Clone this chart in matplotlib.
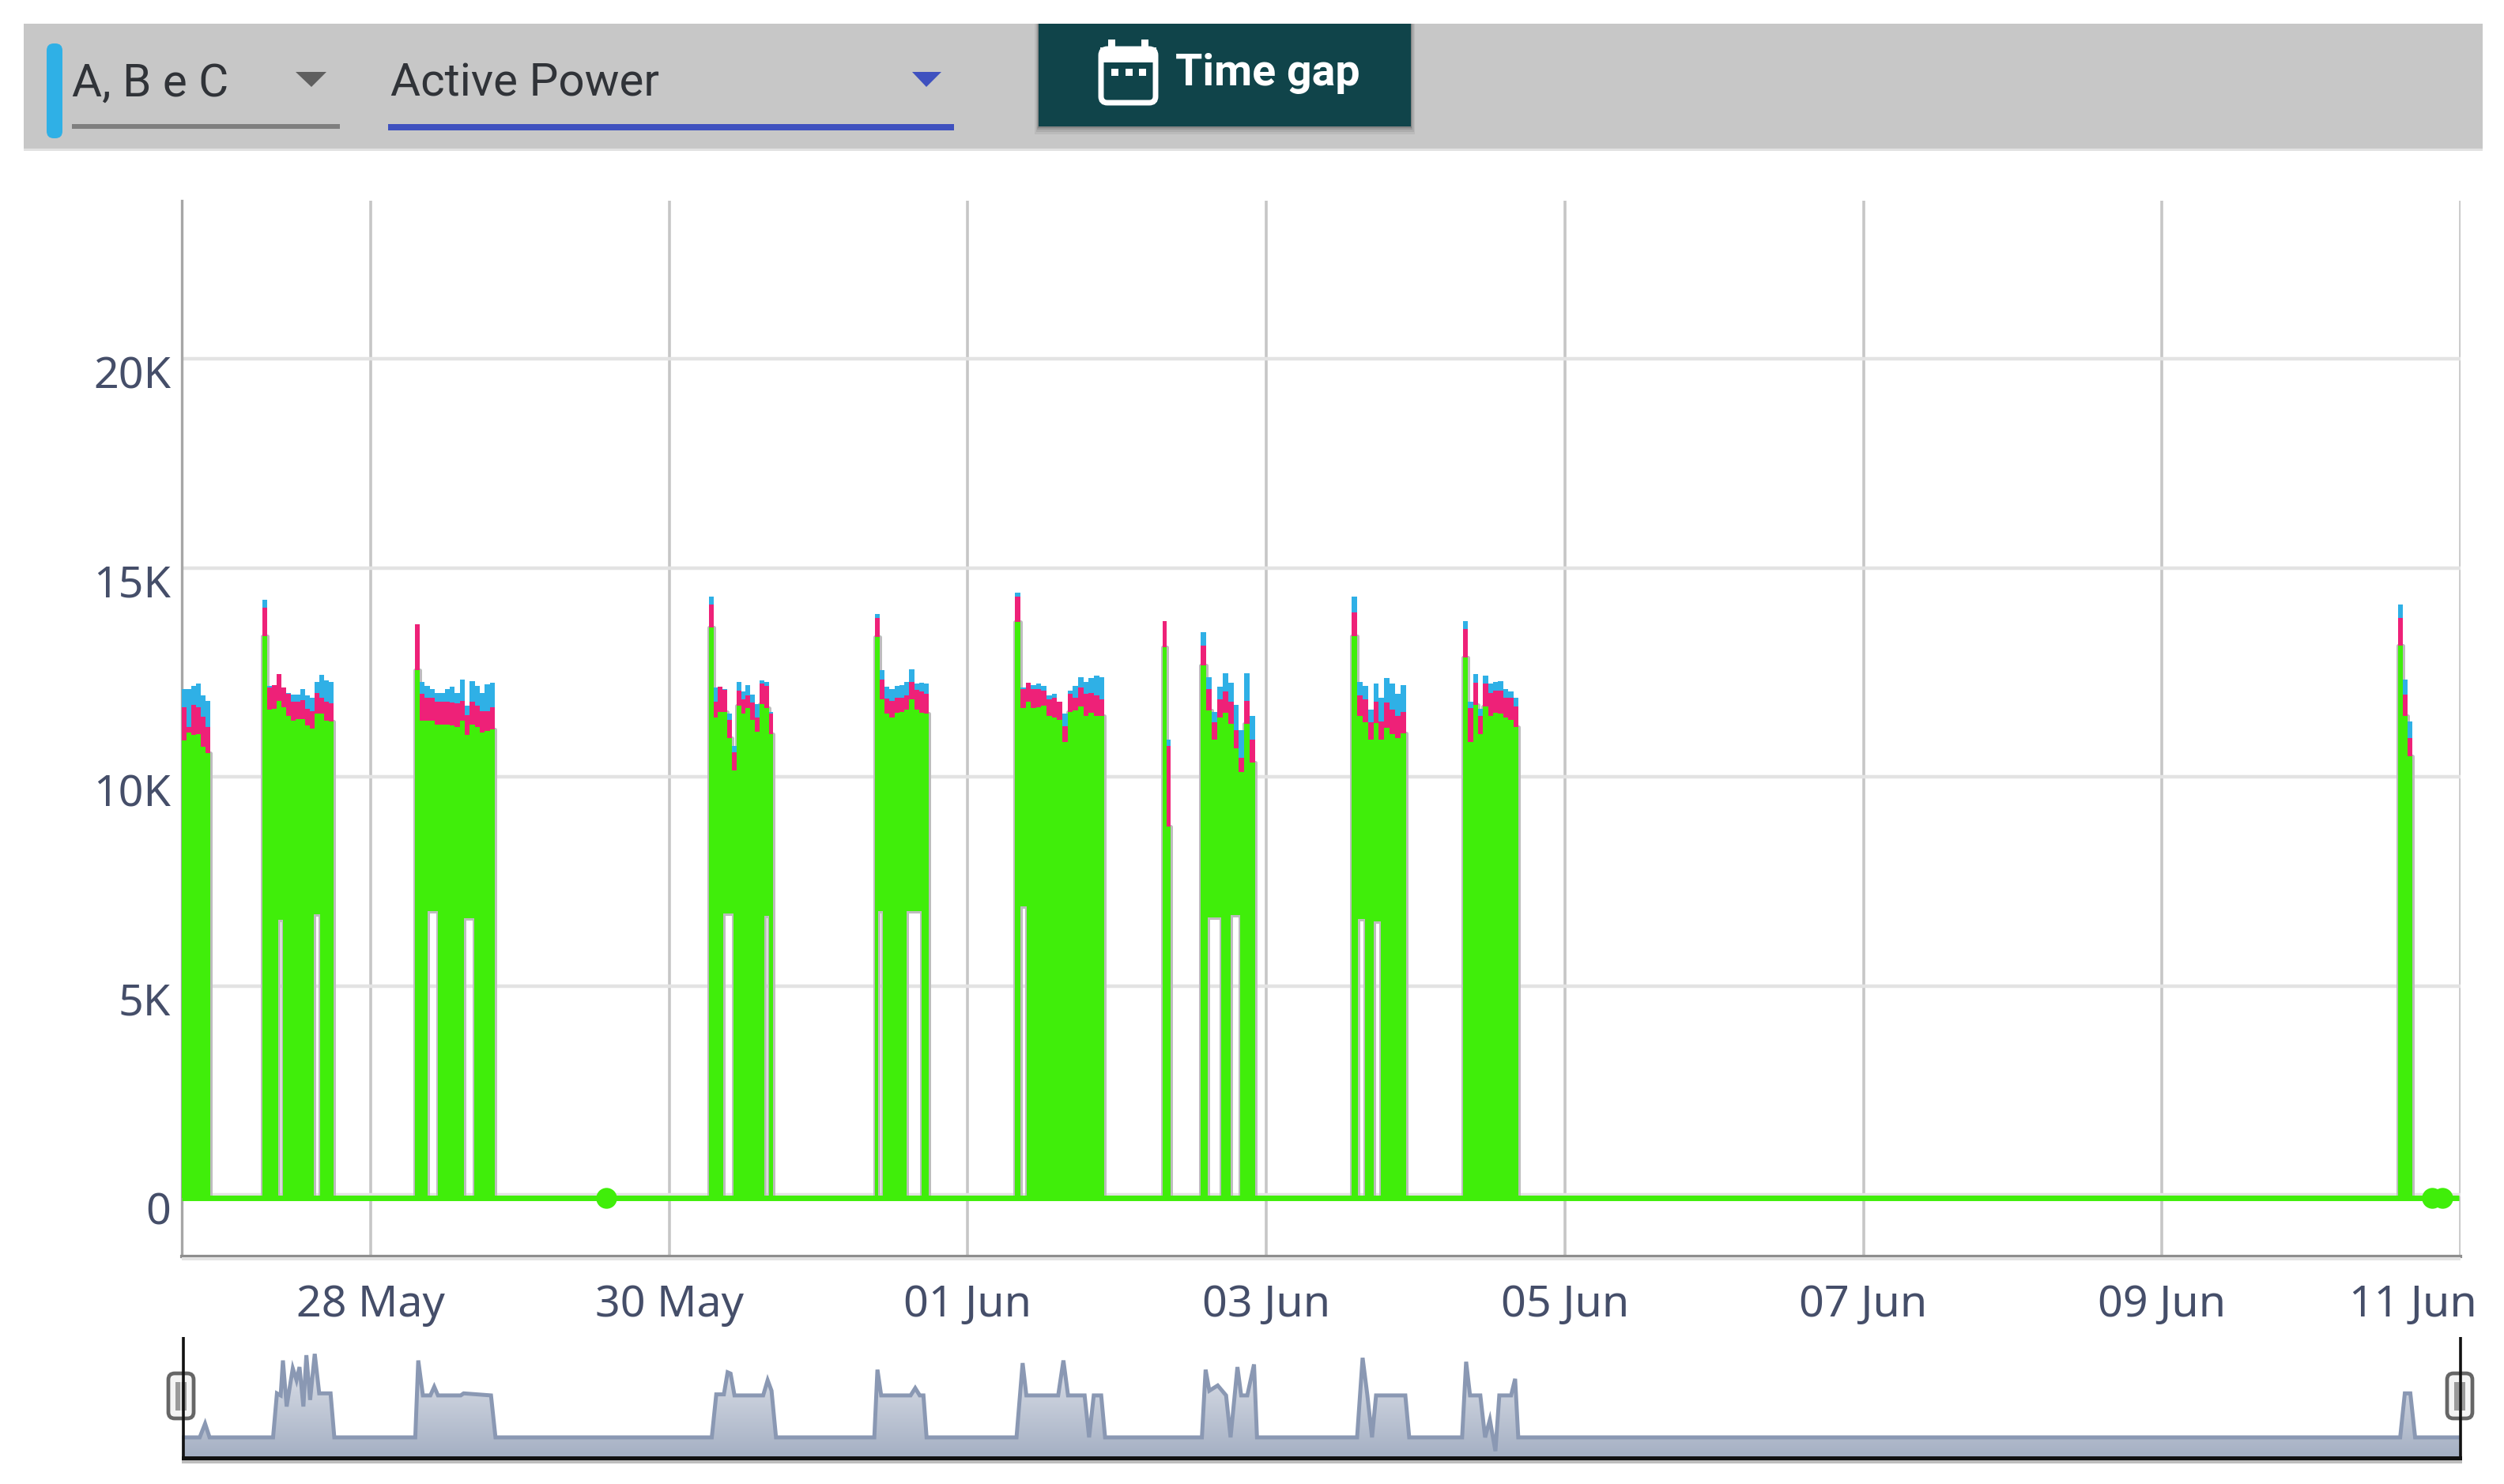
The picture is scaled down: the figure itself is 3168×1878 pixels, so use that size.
import numpy as np
import matplotlib
matplotlib.use("Agg")
import matplotlib.pyplot as plt
from matplotlib.patches import FancyBboxPatch, Rectangle, Polygon
from matplotlib.transforms import Affine2D

# ---- data (days since 28 May, watts) ----
day_ticks = [0, 2, 4, 6, 8, 10, 12, 14]
day_labels = ["28 May", "30 May", "01 Jun", "03 Jun", "05 Jun", "07 Jun", "09 Jun", "11 Jun"]
power_ticks = [0, 5000, 10000, 15000, 20000]
power_labels = ["0", "5K", "10K", "15K", "20K"]

block_start = [-1.265, -0.725, 0.296, 2.265, 3.376, 4.317, 5.307, 5.561, 6.571, 7.317, 13.582]
block_end = [-1.074, -0.249, 0.831, 2.698, 3.741, 4.915, 5.360, 5.926, 6.937, 7.688, 13.677]

phase_a = [
    [12100, 12100, 12165, 12228, 11945, 11820],
    [14226, 12165, 12197, 12449, 12134, 12008, 11958, 11958, 12102, 11945, 11882, 12260, 12430, 12310, 12260],
    [13552, 12260, 12165, 12102, 12008, 12008, 12102, 12153, 12008, 12323, 11693, 12291, 12165, 12008, 12216, 12247],
    [14302, 12133, 12162, 12104, 11506, 10735, 12277, 12036, 12200, 11969, 11747, 12316, 12277, 11554],
    [13897, 12547, 12152, 12104, 12181, 12200, 12277, 12567, 12229, 12258, 12229],
    [14398, 12133, 12229, 12200, 12229, 12181, 11940, 11988, 11795, 11506, 12065, 12181, 12374, 12277, 12355, 12422, 12374],
    [13723, 10880],
    [13453, 12374, 11554, 12162, 12470, 12258, 11718, 11121, 12470, 11458],
    [14302, 12277, 12181, 11603, 12229, 11892, 12354, 12229, 11988, 12200],
    [13723, 11795, 12451, 11622, 12422, 12229, 12277, 12297, 12104, 12036, 11892],
    [14128, 12325, 11333],
]
phase_b = [
    [11660, 11189, 11725, 11660, 11441, 11189],
    [14037, 12134, 12197, 12449, 12134, 11976, 11787, 11787, 11832, 11630, 11567, 12008, 11882, 11787, 11756],
    [13650, 11976, 11882, 11882, 11787, 11787, 11787, 11775, 11756, 11819, 11472, 11787, 11693, 11567, 11567, 11661],
    [14128, 11795, 12162, 12085, 11362, 10590, 12065, 11844, 11940, 11776, 11410, 12229, 12181, 11506],
    [13800, 12326, 11873, 11815, 11892, 11892, 11940, 12277, 12085, 12036, 11988],
    [14302, 12104, 12258, 12104, 12104, 12065, 11844, 11892, 11795, 11217, 11988, 11892, 12133, 11988, 12008, 11940, 11844],
    [13723, 10735],
    [13145, 12104, 11313, 11844, 12036, 11795, 11121, 10446, 11815, 10880],
    [13935, 11940, 11844, 11313, 11795, 11333, 11776, 11603, 11458, 11554],
    [13531, 11651, 12258, 11458, 12229, 12008, 12065, 12065, 11892, 11892, 11679],
    [13801, 11969, 10928],
]
phase_c = [
    [10874, 11063, 11000, 11013, 10716, 10559],
    [13362, 11598, 11630, 11819, 11661, 11454, 11346, 11378, 11378, 11220, 11157, 11517, 11504, 11346, 11315],
    [12544, 11346, 11346, 11346, 11252, 11240, 11240, 11220, 11189, 11346, 11000, 11240, 11189, 11063, 11094, 11126],
    [13579, 11410, 11554, 11554, 10928, 10157, 11699, 11506, 11651, 11362, 11072, 11747, 11651, 11024],
    [13338, 11844, 11506, 11410, 11525, 11554, 11603, 11844, 11603, 11525, 11506],
    [13704, 11651, 11795, 11651, 11670, 11699, 11458, 11410, 11362, 10831, 11554, 11583, 11680, 11458, 11525, 11458, 11458],
    [13097, 8807],
    [12663, 11583, 10880, 11410, 11525, 11265, 10687, 10108, 11265, 10350],
    [13357, 11458, 11313, 10880, 11294, 10880, 11169, 11024, 10928, 11043],
    [12856, 10831, 11718, 11024, 11680, 11458, 11525, 11506, 11410, 11362, 11198],
    [13145, 11458, 10494],
]

gap_start = [-0.619, -0.381, 0.381, 0.624, 2.360, 2.635, 3.402, 3.593, 4.354, 5.608, 5.762, 6.614, 6.720]
gap_end = [-0.587, -0.339, 0.450, 0.693, 2.429, 2.667, 3.434, 3.693, 4.397, 5.698, 5.825, 6.661, 6.767]
gap_floor = [6577, 6710, 6780, 6615, 6730, 6680, 6783, 6783, 6908, 6640, 6690, 6590, 6540]

idle_days = [-1.265, 13.99]
idle_power = [-80, -80]
dot_days = [1.577, 13.81, 13.88]
dot_power = [-80, -80, -80]

nav_days = [-1.251, -1.145, -1.109, -1.079, -0.654, -0.628, -0.603, -0.588, -0.563, -0.522, -0.497, -0.477, -0.451,
            -0.431, -0.406, -0.375, -0.345, -0.269, -0.244,
            0.298, 0.318, 0.349, 0.399, 0.425, 0.450, 0.602, 0.622, 0.805, 0.835,
            2.283, 2.313, 2.364, 2.389, 2.409, 2.435, 2.627, 2.657, 2.683, 2.713,
            3.371, 3.392, 3.417, 3.614, 3.645, 3.675, 3.700, 3.721,
            4.323, 4.364, 4.389, 4.602, 4.637, 4.668, 4.779, 4.809, 4.840, 4.890, 4.916,
            5.564, 5.589, 5.614, 5.670, 5.726, 5.756, 5.802, 5.827, 5.868, 5.913, 5.933,
            6.603, 6.640, 6.672, 6.703, 6.730, 6.926, 6.952,
            7.306, 7.333, 7.359, 7.428, 7.460, 7.492, 7.529, 7.555, 7.634, 7.661, 7.682,
            13.586, 13.617, 13.654, 13.686, 13.99]
nav_values = [0, 0, 3930, 0, 0, 12590, 12000, 22000, 8824, 19743, 16354, 20119, 8824,
              23508, 10707, 23884, 12590, 12590, 0,
              0, 22000, 12000, 12000, 14472, 12000, 12000, 12590, 12000, 0,
              0, 12300, 12300, 18613, 18236, 12000, 12000, 16354, 13342, 0,
              0, 19366, 12000, 12000, 14095, 12000, 12000, 0,
              0, 21248, 12000, 12000, 22000, 12000, 12000, 0, 12000, 12000, 0,
              0, 19366, 13342, 14848, 12000, 0, 20119, 12000, 12000, 20872, 0,
              0, 22754, 12000, 0, 12000, 12000, 0,
              0, 21625, 12000, 12000, 0, 5059, -3920, 12000, 12000, 16750, 0,
              0, 12590, 12590, 0, 0]

# ---- layout (pixels of the 3168x1878 figure) ----
W, H = 3168, 1878
GREEN, PINK, BLUE = "#40EE0A", "#EE2178", "#2FB0E6"
TEXT = "#454E69"
plt.rcParams["font.family"] = ["Noto Sans", "DejaVu Sans"]
fig = plt.figure(figsize=(W / 100, H / 100), dpi=100, facecolor="white")


def rect_px(x0, y0, x1, y1):
    return [x0 / W, 1 - y1 / H, (x1 - x0) / W, (y1 - y0) / H]


# ---- main chart ----
ax = fig.add_axes(rect_px(230, 254, 3113, 1590))
ax.set_xlim(-1.265, 13.99)
ax.set_ylim(-1474, 23781)
ax.set_axisbelow(True)
ax.set_xticks(day_ticks, day_labels)
ax.set_yticks(power_ticks, power_labels)
ax.tick_params(axis="both", length=0, pad=0, labelsize=40, labelcolor=TEXT)
ax.grid(axis="x", color="#C6C6C6", lw=2.6)
ax.grid(axis="y", color="#E3E3E3", lw=3.2)
for s in ("top", "right"):
    ax.spines[s].set_visible(False)
ax.spines["left"].set_color("#A6A6A6")
ax.spines["left"].set_linewidth(2.4)
ax.spines["bottom"].set_color("#8E8E8E")
ax.spines["bottom"].set_linewidth(3)

for lab in ax.get_yticklabels():
    lab.set_verticalalignment("baseline")
    lab.set_transform(lab.get_transform() + Affine2D().translate(-14, -37))
for i, lab in enumerate(ax.get_xticklabels()):
    lab.set_verticalalignment("baseline")
    dx = -60 if day_labels[i] == "11 Jun" else 0
    lab.set_transform(lab.get_transform() + Affine2D().translate(dx, -76))

base = idle_power[0]
for start, end, a, b, c in zip(block_start, block_end, phase_a, phase_b, phase_c):
    edges = np.linspace(start, end, len(c) + 1)
    inner = [g for g in gap_start + gap_end if start < g < end]
    all_edges = np.unique(np.concatenate([edges, inner]))
    mids = (all_edges[:-1] + all_edges[1:]) / 2
    step = np.clip(np.searchsorted(edges, mids) - 1, 0, len(c) - 1)
    lower = np.full(mids.shape, float(base))
    for gs, ge, gf in zip(gap_start, gap_end, gap_floor):
        lower[(mids > gs) & (mids < ge)] = gf
    upper = np.asarray(c, float)[step]
    lo = np.append(lower, lower[-1])
    up = np.append(upper, upper[-1])
    # faint grey halo of the original's thin traces
    ax.fill_between(all_edges, lo, up, step="post", facecolor="none", edgecolor="#BDBDBD", lw=3.6, zorder=2)
    ax.stairs(a, edges, baseline=np.asarray(c, float), fill=True, color=BLUE, lw=0, zorder=3)
    ax.stairs(b, edges, baseline=np.asarray(c, float), fill=True, color=PINK, lw=0, zorder=4)
    ax.fill_between(all_edges, lo, up, step="post", color=GREEN, lw=0, zorder=5)

ax.plot(idle_days, idle_power, color=GREEN, lw=5, solid_capstyle="butt", zorder=6)
ax.plot(dot_days, dot_power, ls="none", marker="o", ms=19, color=GREEN, mew=0, zorder=6)

# ---- navigator ----
nav = fig.add_axes(rect_px(230, 1692, 3113, 1845))
nav.set_xlim(-1.265, 13.99)
nav.set_ylim(-5876, 28702)
nav.axis("off")
nav_x = np.array([-1.265] + nav_days)
nav_y = np.array([0] + nav_values)
poly = Polygon(np.column_stack([np.r_[nav_x, 13.99, -1.265], np.r_[nav_y, -5876, -5876]]),
               closed=True, transform=nav.transData, fc="none", ec="none")
nav.add_patch(poly)
top_col = np.array([0xEC, 0xEE, 0xF3]) / 255
bot_col = np.array([0xA4, 0xAF, 0xC3]) / 255
ramp = np.linspace(0, 1, 200)[:, None, None]
grad = top_col[None, None, :] * (1 - ramp) + bot_col[None, None, :] * ramp
im = nav.imshow(grad, extent=(-1.265, 13.99, -5876, 28702), aspect="auto", zorder=1, origin="upper")
im.set_clip_path(poly)
nav.plot(nav_x, nav_y, color="#8A98B3", lw=3.6, solid_joinstyle="miter", zorder=2)
nav.set_xlim(-1.265, 13.99)
nav.set_ylim(-5876, 28702)

# ---- page furniture, pixel coordinates ----
ui = fig.add_axes([0, 0, 1, 1], zorder=10)
ui.set_xlim(0, W)
ui.set_ylim(H, 0)
ui.axis("off")
ui.patch.set_alpha(0)
ui.add_patch(Rectangle((30, 30), 3111, 160, fc="#C7C7C7", ec="none"))
ui.add_patch(Rectangle((30, 188), 3111, 3, fc="#E2E2E2", ec="none"))
ui.add_patch(FancyBboxPatch((66, 62), 6, 106, boxstyle="round,pad=7,rounding_size=9", fc=BLUE, ec="none"))
ui.add_patch(Rectangle((91, 157), 339, 6, fc="#7F7F7F", ec="none"))
ui.add_patch(Rectangle((491, 157), 716, 8, fc="#3F51BF", ec="none"))
ui.add_patch(Polygon([(374, 91), (413, 91), (394, 110)], fc="#5F5F5F", ec="none"))
ui.add_patch(Polygon([(1154, 91), (1191, 91), (1172, 110)], fc="#3F51BF", ec="none"))
ui.text(91, 122, "A, B e C", family="Roboto", fontsize=42, color="#303338", va="baseline", ha="left")
ui.text(494, 122, "Active Power", family="Roboto", fontsize=42, color="#303338", va="baseline", ha="left")

# button with soft shadow
for off, alpha in ((10, .10), (7, .14), (4, .2), (2, .3)):
    ui.add_patch(Rectangle((1314 - off / 2, 30), 471 + off, 130 + off, fc="#555555", ec="none", alpha=alpha))
ui.add_patch(Rectangle((1314, 30), 471, 130, fc="#10444A", ec="none"))
ui.add_patch(FancyBboxPatch((1397, 66), 61, 60, boxstyle="round,pad=4,rounding_size=8", fc="#10444A", ec="white", lw=5))
ui.add_patch(Rectangle((1392, 60), 71, 19, fc="white", ec="none"))
ui.add_patch(Rectangle((1402, 50), 9, 14, fc="white", ec="none"))
ui.add_patch(Rectangle((1444, 50), 9, 14, fc="white", ec="none"))
for dot_x in (1406, 1424, 1441):
    ui.add_patch(Rectangle((dot_x, 87), 9, 9, fc="white", ec="none"))
ui.text(1487, 108, "Time gap", family="Roboto", weight="bold", fontsize=40, color="white", va="baseline", ha="left")

# navigator frame and handles
ui.plot([232, 232], [1692, 1846], color="#111111", lw=2.6, solid_capstyle="butt")
ui.plot([3113, 3113], [1692, 1846], color="#111111", lw=2.6, solid_capstyle="butt")
ui.add_patch(Rectangle((230, 1848), 2885, 4, fc="#BDBDBD", ec="none"))
ui.add_patch(Rectangle((230, 1843), 2885, 5, fc="#111111", ec="none"))
ui.add_patch(Rectangle((230, 1591), 2883, 4, fc="#E4E4E4", ec="none"))
for cx in (229, 3112):
    ui.add_patch(FancyBboxPatch((cx - 9, 1745), 18, 43, boxstyle="round,pad=7,rounding_size=8",
                                fc="#F4F4F4", ec="#666666", lw=3.4))
    ui.add_patch(Rectangle((cx - 7, 1749), 14, 36, fc="#9A9A9A", ec="none"))
    ui.add_patch(Rectangle((cx - 1, 1749), 2, 36, fc="#DDDDDD", ec="none"))

fig.savefig("out.png", dpi=100, facecolor="white")
